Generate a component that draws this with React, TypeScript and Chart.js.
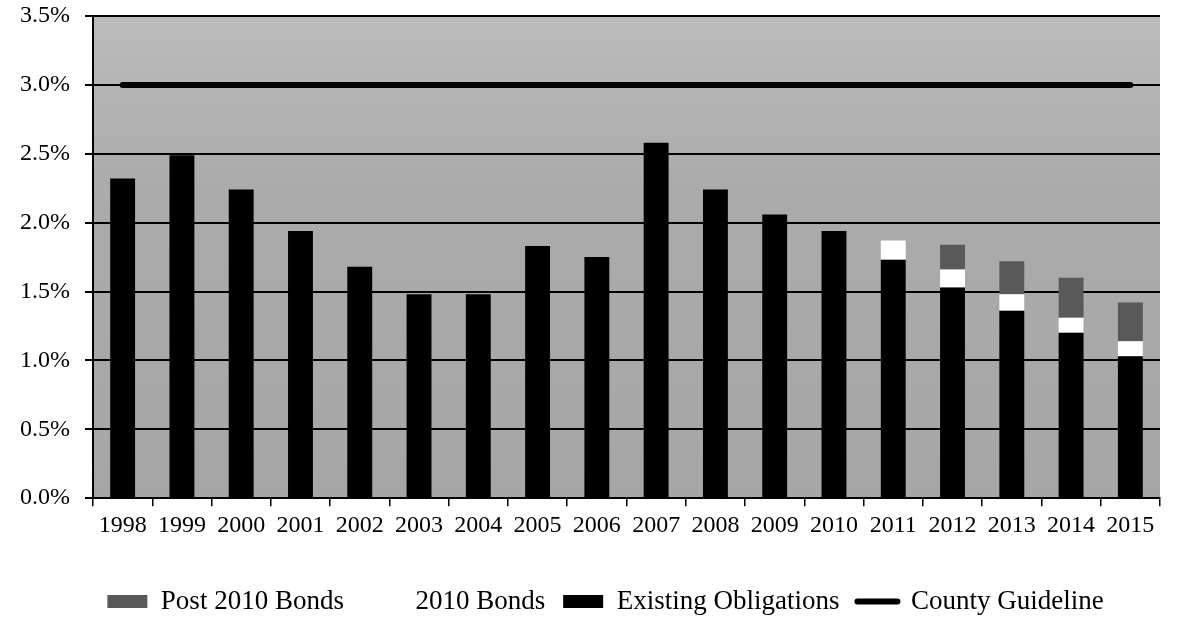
import { useEffect, useRef } from "react";
import { Chart, registerables } from "chart.js";
Chart.register(...registerables);

const years = ["1998", "1999", "2000", "2001", "2002", "2003", "2004", "2005", "2006", "2007", "2008", "2009", "2010", "2011", "2012", "2013", "2014", "2015"];
const existingObligations = [2.32, 2.49, 2.24, 1.94, 1.68, 1.48, 1.48, 1.83, 1.75, 2.58, 2.24, 2.06, 1.94, 1.73, 1.53, 1.36, 1.2, 1.03];
const bonds2010 = [null, null, null, null, null, null, null, null, null, null, null, null, null, 0.14, 0.13, 0.12, 0.11, 0.11];
const post2010Bonds = [null, null, null, null, null, null, null, null, null, null, null, null, null, null, 0.18, 0.24, 0.29, 0.28];
const countyGuideline = [3.0, 3.0, 3.0, 3.0, 3.0, 3.0, 3.0, 3.0, 3.0, 3.0, 3.0, 3.0, 3.0, 3.0, 3.0, 3.0, 3.0, 3.0];
const yMin = 0;
const yMax = 3.5;
const yStep = 0.5;

const FONT = "'Liberation Serif', 'Times New Roman', serif";

const plotBg = {
  id: "plotBg",
  beforeDraw(chart: any) {
    const { ctx, chartArea } = chart;
    const { left, top, right, bottom } = chartArea;
    const g = ctx.createLinearGradient(0, top, 0, bottom);
    g.addColorStop(0, "#bcbcbc");
    g.addColorStop(0.35, "#ababab");
    g.addColorStop(1, "#a6a6a6");
    ctx.save();
    ctx.fillStyle = g;
    ctx.fillRect(left, top, right - left, bottom - top);
    ctx.restore();
  },
};

// shift the legend row slightly right and down, like the reference
const legendPlace = {
  id: "legendPlace",
  afterLayout(chart: any) {
    const lg = chart.legend;
    if (!lg) return;
    const dx = 18;
    const dy = 25;
    lg.left += dx;
    lg.right += dx;
    lg.top += dy;
    lg.bottom += dy;
  },
};

export default function App() {
  const ref = useRef<HTMLCanvasElement | null>(null);
  useEffect(() => {
    if (!ref.current) return;
    const legendRank = [2, 1, 0, 3];
    const chart = new Chart(ref.current, {
      type: "bar",
      data: {
        labels: years,
        datasets: [
          {
            label: "Existing Obligations",
            data: existingObligations,
            backgroundColor: "#000000",
            borderWidth: 0,
            stack: "bars",
            order: 1,
          },
          {
            label: "2010 Bonds",
            data: bonds2010,
            backgroundColor: "#ffffff",
            borderWidth: 0,
            stack: "bars",
            order: 1,
          },
          {
            label: "Post 2010 Bonds",
            data: post2010Bonds,
            backgroundColor: "#595959",
            borderWidth: 0,
            stack: "bars",
            order: 1,
          },
          {
            type: "line",
            label: "County Guideline",
            data: countyGuideline,
            borderColor: "#000000",
            backgroundColor: "#000000",
            borderWidth: 6,
            borderCapStyle: "round",
            pointRadius: 0,
            stack: "guide",
            order: 0,
          } as any,
        ],
      },
      options: {
        animation: false,
        responsive: true,
        maintainAspectRatio: false,
        layout: { padding: { left: 15, right: 28, top: 16, bottom: 20 } },
        datasets: {
          bar: { categoryPercentage: 1, barPercentage: 0.42 },
        } as any,
        plugins: {
          tooltip: { enabled: false },
          legend: {
            position: "bottom",
            labels: {
              color: "#000",
              font: { family: FONT, size: 27 },
              usePointStyle: true,
              pointStyleWidth: 40,
              boxHeight: 13,
              padding: 18,
              sort: (a: any, b: any) => legendRank[a.datasetIndex] - legendRank[b.datasetIndex],
              generateLabels: (chart: any) =>
                chart.data.datasets.map((ds: any, i: number) => ({
                  text: ds.label,
                  datasetIndex: i,
                  fillStyle: ds.backgroundColor,
                  strokeStyle: ds.borderColor || ds.backgroundColor,
                  lineWidth: ds.type === "line" ? 6 : 0,
                  lineCap: "round",
                  pointStyle: ds.type === "line" ? "line" : "rect",
                  hidden: false,
                  fontColor: "#000",
                })),
            },
          },
        },
        scales: {
          x: {
            stacked: true,
            offset: true,
            grid: {
              display: true,
              drawOnChartArea: false,
              offset: true,
              color: "#000",
              lineWidth: 1.5,
              tickLength: 8,
            },
            border: { display: true, color: "#000", width: 2 },
            ticks: {
              color: "#000",
              font: { family: FONT, size: 24 },
              padding: 5,
              maxRotation: 0,
              autoSkip: false,
            },
          },
          y: {
            stacked: true,
            min: yMin,
            max: yMax,
            afterFit: (scale: any) => {
              scale.width = 78;
              scale.paddingTop = 0;
              scale.paddingBottom = 0;
            },
            grid: { color: "#000", lineWidth: 2, tickLength: 8 },
            border: { display: true, color: "#000", width: 2 },
            ticks: {
              stepSize: yStep,
              color: "#000",
              font: { family: FONT, size: 24 },
              padding: 15,
              callback: (v: any) => Number(v).toFixed(1) + "%",
            },
          },
        },
      },
      plugins: [plotBg, legendPlace],
    });
    return () => chart.destroy();
  }, []);
  return (
    <div style={{ position: "fixed", left: 0, top: 0, width: 1188, height: 620, background: "#fff" }}>
      <canvas ref={ref} />
    </div>
  );
}
